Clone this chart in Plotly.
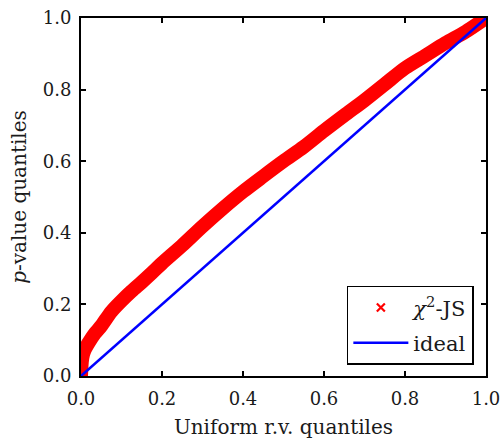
import plotly.graph_objects as go

# Quantile data (band centre)
uniform_q = [0.0, 0.002, 0.005, 0.01, 0.02, 0.035, 0.05, 0.075, 0.1, 0.125, 0.15,
             0.175, 0.2, 0.25, 0.3, 0.35, 0.4, 0.45, 0.5, 0.55, 0.6, 0.65, 0.7,
             0.75, 0.8, 0.85, 0.9, 0.95, 1.0]
pvalue_q = [0.0, 0.04, 0.06, 0.075, 0.095, 0.12, 0.14, 0.18, 0.21, 0.237, 0.262,
            0.288, 0.315, 0.365, 0.418, 0.468, 0.515, 0.558, 0.60, 0.64, 0.685, 0.728, 0.77,
            0.815, 0.86, 0.895, 0.93, 0.962, 1.0]
ideal_x = [0.0, 1.0]
ideal_y = [0.0, 1.0]
tick_vals = [0.0, 0.2, 0.4, 0.6, 0.8, 1.0]

FONT = "DejaVu Serif"

fig = go.Figure()
fig.add_trace(go.Scatter(x=uniform_q, y=pvalue_q, mode="lines",
                         line=dict(color="#ff0000", width=14, shape="spline", smoothing=0.8),
                         showlegend=False, hoverinfo="skip"))
fig.add_trace(go.Scatter(x=[None], y=[None], mode="markers",
                         marker=dict(symbol="x-thin", size=8,
                                     line=dict(color="#ff0000", width=2.2)),
                         legendgroup="a",
                         name="<i>χ</i><sup>2</sup>-JS"))
fig.add_trace(go.Scatter(x=ideal_x, y=ideal_y, mode="lines",
                         line=dict(color="#0000ff", width=2.5),
                         legendgroup="b",
                         name="ideal"))

axis_common = dict(range=[0, 1], tickvals=tick_vals, tickformat=".1f",
                   ticks="inside", ticklen=5, tickwidth=2, tickcolor="black",
                   showline=True, linecolor="black", linewidth=2, mirror="ticks",
                   showgrid=False, zeroline=False, automargin=False,
                   ticklabeloverflow="allow",
                   tickfont=dict(family=FONT, size=18, color="#1a1a1a"))

fig.update_xaxes(**axis_common, ticklabelstandoff=5,
                 title=dict(text="Uniform r.v. quantiles",
                            font=dict(family=FONT, size=20, color="#1a1a1a"),
                            standoff=12))
fig.update_yaxes(**axis_common, ticklabelstandoff=4,
                 title=dict(text="<i>p</i>-value quantiles",
                            font=dict(family=FONT, size=20, color="#1a1a1a"),
                            standoff=11))

fig.update_layout(
    width=502, height=441,
    margin=dict(l=81, r=16, t=18, b=65),
    paper_bgcolor="white", plot_bgcolor="white",
    legend=dict(x=0.97, y=0.031, xanchor="right", yanchor="bottom",
                bgcolor="white", bordercolor="black", borderwidth=1.5,
                font=dict(family=FONT, size=21, color="#1a1a1a"),
                traceorder="grouped", tracegroupgap=5,
                itemwidth=55),
)

fig.write_html("out.html", config={"displayModeBar": False},
               post_script="document.body.style.margin='0';document.body.style.overflow='hidden';")
